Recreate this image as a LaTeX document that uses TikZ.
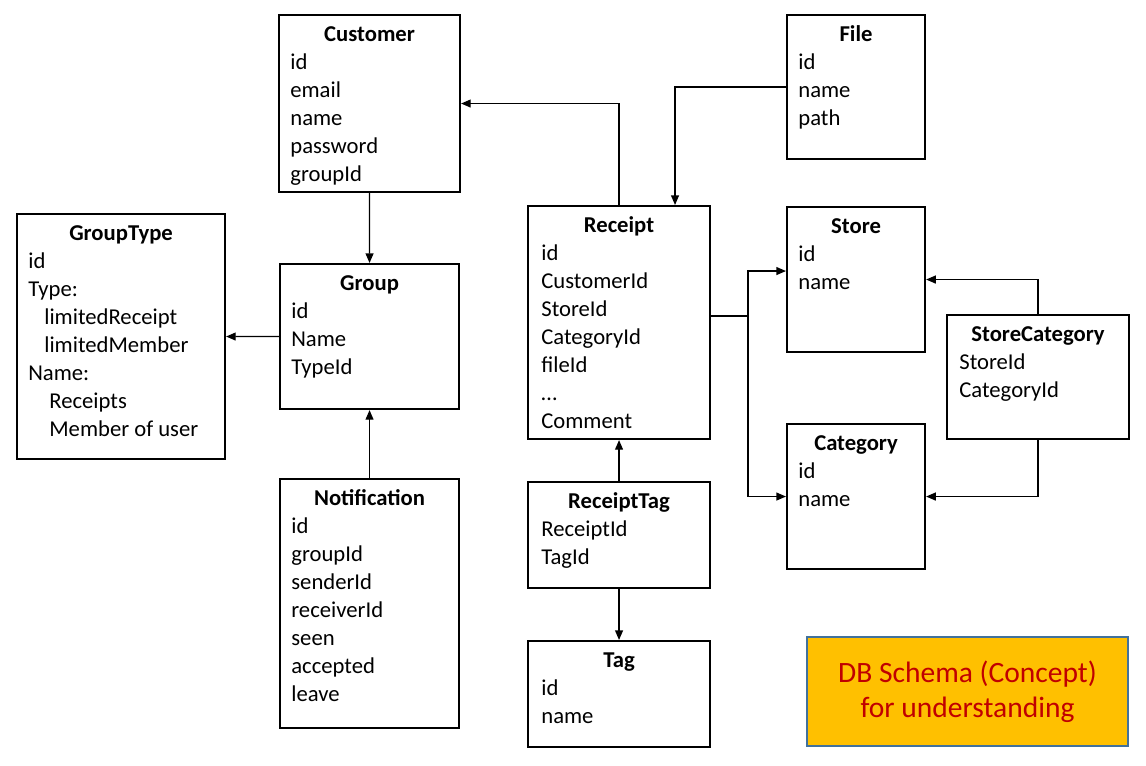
\documentclass[tikz,border=0pt]{standalone}
\usepackage{fontspec}
\setmainfont{Carlito}
\usetikzlibrary{arrows.meta}
\definecolor{legendfill}{HTML}{FFC000}
\definecolor{legendline}{HTML}{41719C}
\definecolor{legendtext}{HTML}{C00000}
\begin{document}
\begin{tikzpicture}[x=0.02cm,y=-0.02cm,
  tbl/.style={draw,line width=1.2pt,anchor=north west,inner sep=0pt},
  ttl/.style={anchor=base,font=\fontsize{12.9}{15.9}\selectfont\bfseries,inner sep=0pt},
  fld/.style={anchor=base west,font=\fontsize{12.9}{15.9}\selectfont,inner sep=0pt},
  link/.style={line width=0.8pt,-{Triangle[length=5.5pt,width=4.5pt]}}]
\useasboundingbox (0,0) rectangle (1146,766);

% tables
\node[tbl,minimum width=3.62cm,minimum height=3.54cm] (customer) at (278,14) {};
\node[ttl] (customer-t) at ([yshift=-0.56cm]customer.north) {Customer};
\foreach \f [count=\i] in {id,email,name,password,groupId}
  \node[fld] (customer-\i) at ([shift={(0.24cm,-0.56cm-0.56cm*\i)}]customer.north west) {\f};

\node[tbl,minimum width=2.76cm,minimum height=2.88cm] (file) at (786,14) {};
\node[ttl] (file-t) at ([yshift=-0.56cm]file.north) {File};
\foreach \f [count=\i] in {id,name,path}
  \node[fld] (file-\i) at ([shift={(0.24cm,-0.56cm-0.56cm*\i)}]file.north west) {\f};

\node[tbl,minimum width=4.16cm,minimum height=4.90cm] (grouptype) at (16,213) {};
\node[ttl] (grouptype-t) at ([yshift=-0.56cm]grouptype.north) {GroupType};
\foreach \f [count=\i] in {id,Type:,\hspace{0.32cm}limitedReceipt,\hspace{0.32cm}limitedMember,
    Name:,\hspace{0.42cm}Receipts,\hspace{0.42cm}Member of user}
  \node[fld] (grouptype-\i) at ([shift={(0.24cm,-0.56cm-0.56cm*\i)}]grouptype.north west) {\f};

\node[tbl,minimum width=3.58cm,minimum height=2.90cm] (group) at (279,263) {};
\node[ttl] (group-t) at ([yshift=-0.56cm]group.north) {Group};
\foreach \f [count=\i] in {id,Name,TypeId}
  \node[fld] (group-\i) at ([shift={(0.24cm,-0.56cm-0.56cm*\i)}]group.north west) {\f};

\node[tbl,minimum width=3.64cm,minimum height=4.66cm] (receipt) at (527,205) {};
\node[ttl] (receipt-t) at ([yshift=-0.56cm]receipt.north) {Receipt};
\foreach \f [count=\i] in {id,CustomerId,StoreId,CategoryId,fileId,\textellipsis,Comment}
  \node[fld] (receipt-\i) at ([shift={(0.28cm,-0.56cm-0.56cm*\i)}]receipt.north west) {\f};

\node[tbl,minimum width=2.76cm,minimum height=2.90cm] (store) at (786,206) {};
\node[ttl] (store-t) at ([yshift=-0.56cm]store.north) {Store};
\foreach \f [count=\i] in {id,name}
  \node[fld] (store-\i) at ([shift={(0.24cm,-0.56cm-0.56cm*\i)}]store.north west) {\f};

\node[tbl,minimum width=3.64cm,minimum height=2.48cm] (storecategory) at (946,314) {};
\node[ttl] (storecategory-t) at ([yshift=-0.56cm]storecategory.north) {StoreCategory};
\foreach \f [count=\i] in {StoreId,CategoryId}
  \node[fld] (storecategory-\i) at ([shift={(0.26cm,-0.56cm-0.56cm*\i)}]storecategory.north west) {\f};

\node[tbl,minimum width=2.76cm,minimum height=2.90cm] (category) at (786,423) {};
\node[ttl] (category-t) at ([yshift=-0.56cm]category.north) {Category};
\foreach \f [count=\i] in {id,name}
  \node[fld] (category-\i) at ([shift={(0.24cm,-0.56cm-0.56cm*\i)}]category.north west) {\f};

\node[tbl,minimum width=3.58cm,minimum height=4.98cm] (notification) at (279,478) {};
\node[ttl] (notification-t) at ([yshift=-0.56cm]notification.north) {Notification};
\foreach \f [count=\i] in {id,groupId,senderId,receiverId,seen,accepted,leave}
  \node[fld] (notification-\i) at ([shift={(0.24cm,-0.56cm-0.56cm*\i)}]notification.north west) {\f};

\node[tbl,minimum width=3.64cm,minimum height=2.12cm] (receipttag) at (527,481) {};
\node[ttl] (receipttag-t) at ([yshift=-0.56cm]receipttag.north) {ReceiptTag};
\foreach \f [count=\i] in {ReceiptId,TagId}
  \node[fld] (receipttag-\i) at ([shift={(0.28cm,-0.56cm-0.56cm*\i)}]receipttag.north west) {\f};

\node[tbl,minimum width=3.64cm,minimum height=2.12cm] (tag) at (527,640) {};
\node[ttl] (tag-t) at ([yshift=-0.56cm]tag.north) {Tag};
\foreach \f [count=\i] in {id,name}
  \node[fld] (tag-\i) at ([shift={(0.28cm,-0.56cm-0.56cm*\i)}]tag.north west) {\f};

\node[fill=legendfill,draw=legendline,line width=1.2pt,minimum width=6.42cm,minimum height=2.18cm,
  text=legendtext,align=center,font=\fontsize{16.8}{19.8}\selectfont] (legend) at (967.5,691.5)
  {DB Schema (Concept)\\for understanding};

% relations
\draw[link] (receipt.north) |- (customer.east);
\draw[link] (file.west) -| ([xshift=1.12cm]receipt.north);
\draw[link] (customer.south) -- (group.north);
\draw[link] (group.west) -- (grouptype.east);
\draw[link] (notification.north) -- (group.south);
\draw[link] (receipttag.north) -- (receipt.south);
\draw[link] (receipttag.south) -- (tag.north);
\coordinate (fork) at (748,316);
\draw[line width=1.5pt] (receipt.east |- fork) -- (fork);
\draw[link] (fork) |- ([yshift=0.17cm]store.west);
\draw[link] (fork) |- (category.west);
\draw[link] (storecategory.north) |- (store.east);
\draw[link] (storecategory.south) |- (category.east);
\end{tikzpicture}
\end{document}
